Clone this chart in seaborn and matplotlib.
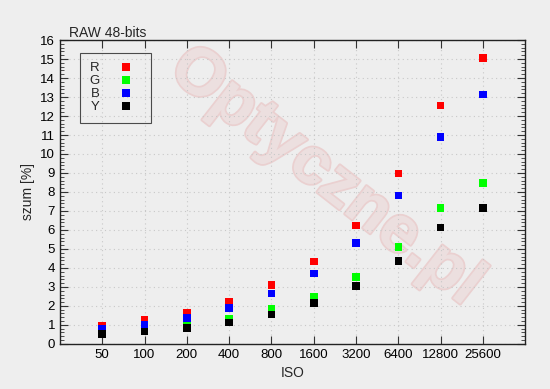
import pandas as pd
import numpy as np
import matplotlib
matplotlib.use("Agg")
import matplotlib.pyplot as plt
import matplotlib.patheffects as pe
import seaborn as sns
from matplotlib.ticker import MultipleLocator

iso = ['50', '100', '200', '400', '800', '1600', '3200', '6400', '12800', '25600']
noise_r = [0.97, 1.25, 1.62, 2.23, 3.10, 4.33, 6.23, 8.98, 12.56, 15.07]
noise_g = [0.75, 0.80, 0.98, 1.33, 1.82, 2.47, 3.51, 5.09, 7.14, 8.46]
noise_b = [0.80, 1.02, 1.35, 1.88, 2.65, 3.70, 5.30, 7.81, 10.91, 13.14]
noise_y = [0.53, 0.65, 0.82, 1.12, 1.54, 2.16, 3.05, 4.38, 6.12, 7.14]
channels = ['R', 'G', 'B', 'Y']
colors = ['#ff0000', '#00ff00', '#0000ff', '#000000']

df = pd.DataFrame({'ISO': iso * 4,
                   'szum': noise_r + noise_g + noise_b + noise_y,
                   'kanal': np.repeat(channels, len(iso))})

sns.set_style('white')
plt.rcParams['font.family'] = ['Liberation Sans', 'DejaVu Sans']
bg = '#eeeeee'
fig = plt.figure(figsize=(5.5, 3.89), dpi=100, facecolor=bg)
ax = fig.add_axes([0.109, 0.116, 0.846, 0.781])
ax.set_facecolor(bg)

# watermark
wm = ax.text(0.57, 0.55, 'Optyczne.pl', transform=ax.transAxes, rotation=-38,
             fontsize=48, fontweight='bold', color='#ecdfdf',
             ha='center', va='center', zorder=0)
wm.set_path_effects([pe.withStroke(linewidth=2.5, foreground='#ead0d0')])

sns.stripplot(data=df, x='ISO', y='szum', hue='kanal', hue_order=channels,
              palette=colors, order=iso, jitter=False, marker='s', size=5.5,
              linewidth=0, dodge=False, ax=ax, zorder=3)

ax.set_xlim(-1, 10)
ax.set_ylim(0, 16)
ax.yaxis.set_major_locator(MultipleLocator(1))
ax.yaxis.set_minor_locator(MultipleLocator(0.2))
ax.grid(True, which='major', color='#c8c8c8', linestyle=(0, (1, 3)), linewidth=0.8)
ax.set_axisbelow(True)
ax.tick_params(axis='both', which='major', direction='in', length=6, width=0.8,
               labelsize=9.5, colors='#333333', labelcolor='black',
               top=True, right=True, bottom=True, left=True)
ax.tick_params(axis='y', which='minor', direction='in', length=3, width=0.6,
               colors='#333333', left=True, right=True)
for sp in ax.spines.values():
    sp.set_color('#222222')
    sp.set_linewidth(1.0)

ax.set_xlabel('ISO', fontsize=10)
ax.set_ylabel('szum [%]', fontsize=10)
ax.set_title('RAW 48-bits', loc='left', fontsize=10, pad=2, x=0.02)

handles, labels = ax.get_legend_handles_labels()
leg = ax.legend(handles, labels, loc='upper left', bbox_to_anchor=(0.043, 0.958),
                markerfirst=False, frameon=True, fancybox=False, fontsize=9.5,
                handletextpad=0.8, labelspacing=0.06, borderpad=0.7,
                borderaxespad=0, markerscale=1.0, handlelength=2.4)
leg.get_frame().set_edgecolor('#222222')
leg.get_frame().set_facecolor('none')
leg.get_frame().set_linewidth(0.8)

fig.savefig('out.png', dpi=100, facecolor=bg)
